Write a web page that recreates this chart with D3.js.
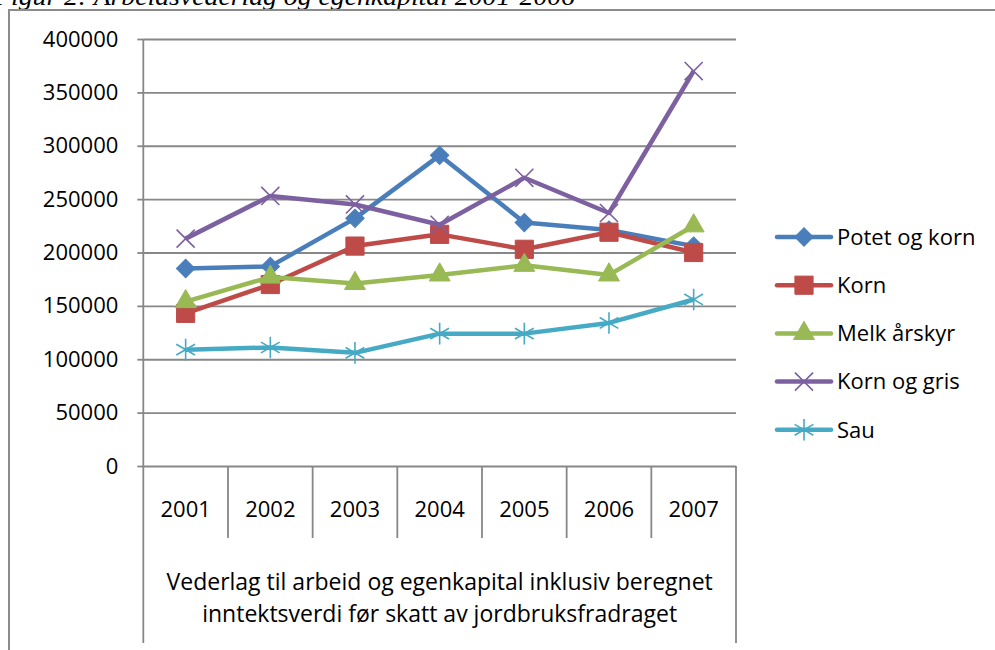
<!DOCTYPE html>
<html lang="no">
<head>
    <meta charset="UTF-8">
    <title>Figur 2</title>
    <style>
        *{
            margin: 0;
            padding: 0;
        }
        body{
            width: 995px;
            height: 650px;
            background: #fff;
            overflow: hidden;
        }
        #chart text{
            font-family: "Open Sans", "DejaVu Sans", sans-serif;
            fill: #000;
        }
        #chart .title{
            font-family: "Liberation Serif", "DejaVu Serif", serif;
            font-style: italic;
        }
    </style>
</head>
<body>
<svg id="chart" width="995" height="650"></svg>
<script src="https://cdnjs.cloudflare.com/ajax/libs/d3/7.8.5/d3.min.js"></script>
<script>
    var years = ["2001", "2002", "2003", "2004", "2005", "2006", "2007"];
    var seriesNames = ["Potet og korn", "Korn", "Melk årskyr", "Korn og gris", "Sau"];
    var potetOgKorn = [185000, 187000, 232000, 291000, 228000, 221000, 206000];
    var korn = [143000, 170000, 206000, 217000, 203000, 219000, 200000];
    var melkArskyr = [154000, 177000, 171000, 179000, 188000, 179000, 225000];
    var kornOgGris = [213000, 253000, 245000, 226000, 270000, 237000, 370000];
    var sau = [109000, 111000, 106000, 124000, 124000, 134000, 156000];
    var yTicks = [0, 50000, 100000, 150000, 200000, 250000, 300000, 350000, 400000];
    var axisTitle = ["Vederlag til arbeid og egenkapital inklusiv beregnet",
        "inntektsverdi før skatt av jordbruksfradraget"];
    var figTitle = "Figur 2:  Arbeidsvederlag og egenkapital 2001-2006";

    var seriesValues = [potetOgKorn, korn, melkArskyr, kornOgGris, sau];
    var colors = ["#4A7EBB", "#BE4B48", "#98B954", "#7D60A0", "#46AAC5"];
    var gridCol = "#878787";

    /*plot area*/
    var plotLeft = 143.3, plotRight = 736, plotTop = 39, plotBottom = 466;

    var svg = d3.select("#chart");

    /*title, cut by the page top*/
    svg.append("text")
        .attr("class", "title")
        .attr("x", -6)
        .attr("y", 5)
        .attr("font-size", 25)
        .attr("textLength", 581)
        .attr("lengthAdjust", "spacingAndGlyphs")
        .text(figTitle);

    /*outer frame*/
    svg.append("rect")
        .attr("x", 9)
        .attr("y", 10)
        .attr("width", 1100)
        .attr("height", 800)
        .attr("fill", "none")
        .attr("stroke", "#8c8c8c")
        .attr("stroke-width", 2);

    var x = d3.scaleBand().domain(years).range([plotLeft, plotRight]).padding(0);
    var y = d3.scaleLinear().domain([0, 400000]).range([plotBottom, plotTop]);
    var cx = function (i) {
        return x(years[i]) + x.bandwidth() / 2;
    };

    /*gridlines*/
    svg.append("g")
        .attr("transform", "translate(" + plotLeft + ",0)")
        .call(d3.axisLeft(y).tickValues(yTicks).tickSize(-(plotRight - plotLeft)).tickFormat(""))
        .call(function (g) {
            g.select(".domain").remove();
            g.selectAll("line").attr("stroke", gridCol).attr("stroke-width", 1.8);
        });

    /*y axis labels and ticks*/
    svg.append("g")
        .attr("transform", "translate(" + plotLeft + ",0)")
        .call(d3.axisLeft(y).tickValues(yTicks).tickSize(6).tickPadding(19).tickFormat(d3.format("d")))
        .call(function (g) {
            g.select(".domain").remove();
            g.selectAll("line").attr("stroke", gridCol).attr("stroke-width", 1.8);
            g.selectAll("text").attr("font-size", 22).attr("font-family", null);
        });

    /*category lines below the plot*/
    var edges = years.map(function (d) { return x(d); }).concat([plotRight]);
    svg.append("g")
        .selectAll("line")
        .data(edges)
        .enter()
        .append("line")
        .attr("x1", function (d) { return d; })
        .attr("x2", function (d) { return d; })
        .attr("y1", function (d, i) { return i === 0 ? plotTop : plotBottom; })
        .attr("y2", function (d, i) { return (i === 0 || i === edges.length - 1) ? 643 : 538; })
        .attr("stroke", gridCol)
        .attr("stroke-width", 1.8);

    /*year labels*/
    svg.append("g")
        .selectAll("text")
        .data(years)
        .enter()
        .append("text")
        .attr("x", function (d, i) { return cx(i); })
        .attr("y", 517)
        .attr("text-anchor", "middle")
        .attr("font-size", 22)
        .text(function (d) { return d; });

    /*axis title*/
    svg.append("g")
        .selectAll("text")
        .data(axisTitle)
        .enter()
        .append("text")
        .attr("x", (plotLeft + plotRight) / 2)
        .attr("y", function (d, i) { return 590 + i * 32; })
        .attr("text-anchor", "middle")
        .attr("font-size", 23)
        .text(function (d) { return d; });

    /*marker shapes*/
    function marker(sel, k) {
        var col = colors[k];
        if (k === 0) {
            sel.attr("d", d3.symbol().type(d3.symbolSquare).size(170)())
                .attr("fill", col).attr("stroke", col).attr("stroke-width", 1)
                .attr("transform", function () { return d3.select(this).attr("transform") + " rotate(45)"; });
        } else if (k === 1) {
            sel.attr("d", d3.symbol().type(d3.symbolSquare).size(330)())
                .attr("fill", col).attr("stroke", col).attr("stroke-width", 1);
        } else if (k === 2) {
            sel.attr("d", d3.symbol().type(d3.symbolTriangle).size(190)())
                .attr("fill", col).attr("stroke", col).attr("stroke-width", 1);
        } else if (k === 3) {
            sel.attr("d", d3.symbol().type(d3.symbolX).size(215)())
                .attr("fill", "none").attr("stroke", col).attr("stroke-width", 1.6);
        } else {
            sel.attr("d", d3.symbol().type(d3.symbolAsterisk).size(330)())
                .attr("fill", "none").attr("stroke", col).attr("stroke-width", 1.6);
        }
    }

    var line = d3.line()
        .x(function (d, i) { return cx(i); })
        .y(function (d) { return y(d); });

    seriesValues.forEach(function (vals, k) {
        var g = svg.append("g").attr("class", "series");
        g.append("path")
            .datum(vals)
            .attr("d", line)
            .attr("fill", "none")
            .attr("stroke", colors[k])
            .attr("stroke-width", 4.5)
            .attr("stroke-linejoin", "round");
        g.selectAll(".mk")
            .data(vals)
            .enter()
            .append("path")
            .attr("class", "mk")
            .attr("transform", function (d, i) {
                return "translate(" + cx(i) + "," + y(d) + ")";
            })
            .each(function () {
                marker(d3.select(this), k);
            });
    });

    /*legend*/
    var leg = svg.append("g")
        .selectAll("g")
        .data(seriesNames)
        .enter()
        .append("g")
        .attr("transform", function (d, i) {
            return "translate(777," + (237 + i * 48.2) + ")";
        });
    leg.append("line")
        .attr("x1", 0)
        .attr("x2", 54)
        .attr("stroke", function (d, i) { return colors[i]; })
        .attr("stroke-width", 4.5)
        .attr("stroke-linecap", "round");
    leg.append("path")
        .attr("transform", "translate(27,0)")
        .each(function (d, i) {
            marker(d3.select(this), i);
        });
    leg.append("text")
        .attr("x", 60)
        .attr("dy", "0.35em")
        .attr("font-size", 22)
        .text(function (d) { return d; });
</script>
</body>
</html>
